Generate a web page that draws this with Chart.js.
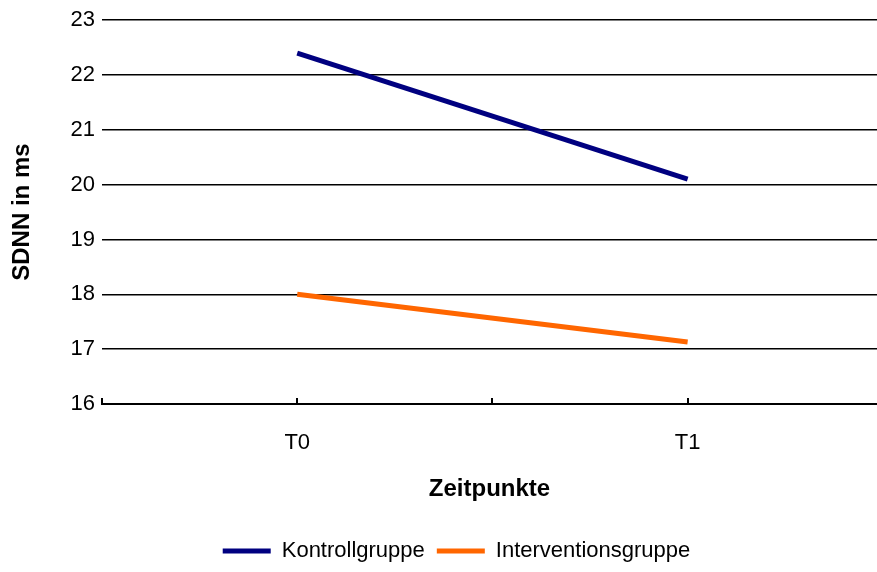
<!DOCTYPE html>
<html>
<head>
<meta charset="utf-8">
<script src="https://cdn.jsdelivr.net/npm/chart.js@4.4.1/dist/chart.umd.min.js"></script>
<style>
  html, body { margin: 0; padding: 0; background: #fff; }
  #wrap { width: 877px; height: 572px; }
</style>
</head>
<body>
<div id="wrap"><canvas id="c" width="877" height="572"></canvas></div>
<script>
const categories = ["T0", "T1"];
const categoryPositions = [1, 3];
const kontrollgruppe = [22.4, 20.1];
const interventionsgruppe = [18.0, 17.13];
const yTicks = [16, 17, 18, 19, 20, 21, 22, 23];

function toPoints(vals) {
  return vals.map((v, i) => ({ x: categoryPositions[i], y: v }));
}

const FONT = "'Liberation Sans', Arial, sans-serif";

const innerTicks = {
  id: 'innerTicks',
  afterLayout(chart) {
    chart.legend.left += 18;
    chart.legend.right += 18;
  },
  afterDatasetsDraw(chart) {
    const xs = chart.scales.x;
    const ctx = chart.ctx;
    ctx.save();
    ctx.strokeStyle = '#000';
    ctx.lineWidth = 2;
    xs.ticks.forEach(t => {
      const px = Math.round(xs.getPixelForValue(t.value));
      ctx.beginPath();
      ctx.moveTo(px, chart.chartArea.bottom);
      ctx.lineTo(px, chart.chartArea.bottom - 6);
      ctx.stroke();
    });
    ctx.restore();
  }
};

new Chart(document.getElementById('c'), {
  type: 'line',
  data: {
    datasets: [
      {
        label: 'Kontrollgruppe',
        data: toPoints(kontrollgruppe),
        borderColor: '#000080',
        backgroundColor: '#000080',
        borderWidth: 5,
        pointRadius: 0,
        tension: 0
      },
      {
        label: 'Interventionsgruppe',
        data: toPoints(interventionsgruppe),
        borderColor: '#FF6600',
        backgroundColor: '#FF6600',
        borderWidth: 5,
        pointRadius: 0,
        tension: 0
      }
    ]
  },
  options: {
    responsive: false,
    animation: false,
    devicePixelRatio: 1,
    layout: { padding: { top: 20, right: 0, left: 0, bottom: 0 } },
    scales: {
      x: {
        type: 'linear',
        min: 0,
        max: 3.97,
        afterFit: (s) => { s.height = 124; },
        grid: { display: false },
        border: { display: true, color: '#000', width: 2 },
        ticks: {
          stepSize: 1,
          includeBounds: false,
          autoSkip: false,
          maxRotation: 0,
          padding: 18,
          color: '#000',
          font: { family: FONT, size: 22 },
          callback: (v) => {
            const i = categoryPositions.indexOf(v);
            return i >= 0 ? categories[i] : '';
          }
        },
        title: {
          display: true,
          text: 'Zeitpunkte',
          color: '#000',
          font: { family: FONT, size: 24, weight: 'bold' },
          padding: { top: 18, bottom: 24 }
        }
      },
      y: {
        min: 16,
        max: 23,
        afterFit: (s) => { s.width = 102; },
        afterBuildTicks: (s) => { s.ticks = yTicks.map(v => ({ value: v })); },
        grid: { color: '#000', lineWidth: 1.5, drawTicks: false },
        border: { display: false },
        ticks: {
          padding: 7,
          color: '#000',
          font: { family: FONT, size: 22 }
        },
        title: {
          display: true,
          text: 'SDNN in ms',
          color: '#000',
          font: { family: FONT, size: 24, weight: 'bold' },
          padding: { top: 8, bottom: 0 }
        }
      }
    },
    plugins: {
      legend: {
        position: 'bottom',
        labels: {
          boxWidth: 48,
          boxHeight: 5,
          color: '#000',
          padding: 12,
          font: { family: FONT, size: 22 },
          generateLabels: (chart) =>
            Chart.defaults.plugins.legend.labels.generateLabels(chart)
              .map(l => Object.assign(l, { lineWidth: 0 }))
        }
      },
      tooltip: { enabled: false }
    }
  },
  plugins: [innerTicks]
});
</script>
</body>
</html>
